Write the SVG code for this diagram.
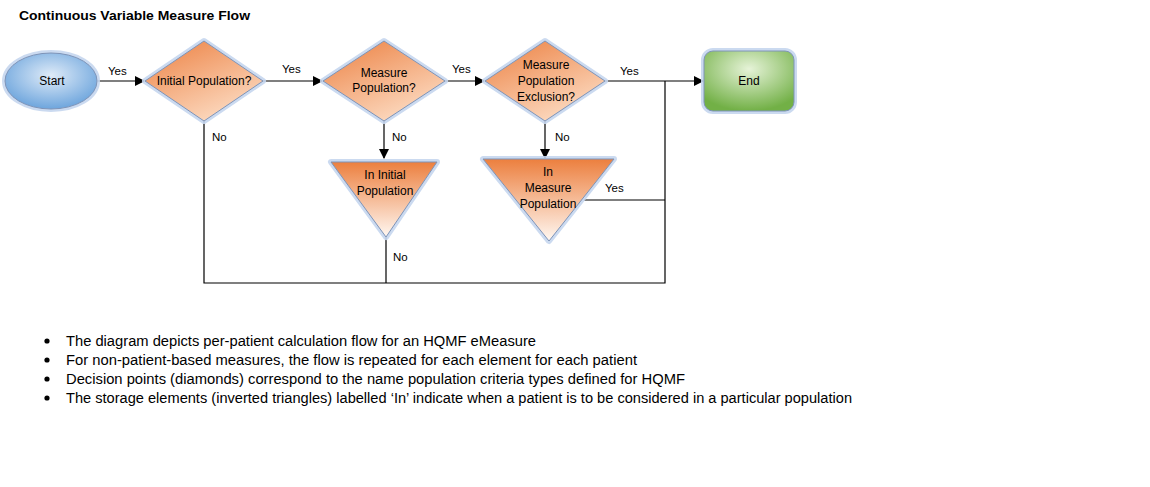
<svg xmlns="http://www.w3.org/2000/svg" width="1150" height="487" viewBox="0 0 1150 487">
<style>
text{font-family:"Liberation Sans",Arial,sans-serif;fill:#000}
.t{font-size:12px;text-anchor:middle}
.l{font-size:11.5px}
.b{font-size:14px}
.c{stroke:#000;stroke-width:1.2;fill:none}
.g{fill:none;stroke:#c5d6ee;stroke-width:6;stroke-linejoin:round;opacity:0.9}
.o{stroke:#7e94b8;stroke-width:1}
</style>
<defs>
<radialGradient id="blue" cx="50%" cy="40%" r="62%"><stop offset="0" stop-color="#dfebf8"/><stop offset="1" stop-color="#6aa3dc"/></radialGradient>
<linearGradient id="orange" x1="0" y1="0" x2="0.6" y2="1"><stop offset="0" stop-color="#ec8041"/><stop offset="1" stop-color="#fcd9bf"/></linearGradient>
<linearGradient id="tri" x1="0" y1="0" x2="0" y2="1"><stop offset="0" stop-color="#ec7f3e"/><stop offset="1" stop-color="#fff8f2"/></linearGradient>
<radialGradient id="green" cx="50%" cy="30%" r="70%"><stop offset="0" stop-color="#e6f3d8"/><stop offset="1" stop-color="#72b046"/></radialGradient>
<marker id="arr" markerWidth="10" markerHeight="10" refX="9" refY="5" orient="auto" markerUnits="userSpaceOnUse"><path d="M0,0 L10,5 L0,10 z" fill="#000"/></marker>
</defs>
<rect width="1150" height="487" fill="#fff"/>
<text x="19" y="20" style="font-size:13px;font-weight:bold" textLength="231" lengthAdjust="spacingAndGlyphs">Continuous Variable Measure Flow</text>

<g id="connectors">
<line class="c" x1="98" y1="81" x2="144" y2="81" marker-end="url(#arr)"/>
<line class="c" x1="263" y1="81" x2="322" y2="81" marker-end="url(#arr)"/>
<line class="c" x1="445" y1="81" x2="484" y2="81" marker-end="url(#arr)"/>
<line class="c" x1="605" y1="81" x2="703" y2="81" marker-end="url(#arr)"/>
<line class="c" x1="384" y1="120" x2="384" y2="158" marker-end="url(#arr)"/>
<line class="c" x1="545" y1="120" x2="545" y2="158" marker-end="url(#arr)"/>
<polyline class="c" points="204,120 204,283 665,283 665,81"/>
<line class="c" x1="386" y1="237" x2="386" y2="283"/>
<line class="c" x1="584" y1="200" x2="665" y2="200"/>
<text class="l" x="108" y="75">Yes</text>
<text class="l" x="282" y="73">Yes</text>
<text class="l" x="452" y="73">Yes</text>
<text class="l" x="620" y="75">Yes</text>
<text class="l" x="212" y="141">No</text>
<text class="l" x="392" y="141">No</text>
<text class="l" x="555" y="141">No</text>
<text class="l" x="393" y="261">No</text>
<text class="l" x="605" y="192">Yes</text>
</g>

<g id="start">
<ellipse cx="51" cy="81" rx="46" ry="28" class="g"/>
<ellipse cx="51" cy="81" rx="46" ry="28" fill="url(#blue)" class="o"/>
<text class="t" x="52" y="85">Start</text>
</g>
<g id="initial-population">
<polygon points="204,41 263,81 204,121 145,81" class="g"/>
<polygon points="204,41 263,81 204,121 145,81" fill="url(#orange)" class="o"/>
<text class="t" x="204" y="85">Initial Population?</text>
</g>
<g id="measure-population">
<polygon points="384,41 445,81 384,121 323,81" class="g"/>
<polygon points="384,41 445,81 384,121 323,81" fill="url(#orange)" class="o"/>
<text class="t" x="384" y="77">Measure</text>
<text class="t" x="384" y="92">Population?</text>
</g>
<g id="measure-population-exclusion">
<polygon points="545,41 605,81 545,121 485,81" class="g"/>
<polygon points="545,41 605,81 545,121 485,81" fill="url(#orange)" class="o"/>
<text class="t" x="546" y="69">Measure</text>
<text class="t" x="546" y="85">Population</text>
<text class="t" x="546" y="101">Exclusion?</text>
</g>
<g id="end">
<rect x="704" y="51" width="90" height="60" rx="9" class="g"/>
<rect x="704" y="51" width="90" height="60" rx="9" fill="url(#green)" class="o"/>
<text class="t" x="749" y="85">End</text>
</g>
<g id="in-initial-population">
<polygon points="331,162 437,162 386,237" class="g"/>
<polygon points="331,162 437,162 386,237" fill="url(#tri)" class="o"/>
<text class="t" x="385" y="179">In Initial</text>
<text class="t" x="385" y="195">Population</text>
</g>
<g id="in-measure-population">
<polygon points="483,159 614,159 549,241" class="g"/>
<polygon points="483,159 614,159 549,241" fill="url(#tri)" class="o"/>
<text class="t" x="548" y="176">In</text>
<text class="t" x="548" y="192">Measure</text>
<text class="t" x="548" y="208">Population</text>
</g>

<g id="notes">
<circle cx="47" cy="341" r="2.6" fill="#000"/>
<circle cx="47" cy="360" r="2.6" fill="#000"/>
<circle cx="47" cy="379" r="2.6" fill="#000"/>
<circle cx="47" cy="398" r="2.6" fill="#000"/>
<text class="b" x="66" y="346" textLength="470" lengthAdjust="spacingAndGlyphs">The diagram depicts per-patient calculation flow for an HQMF eMeasure</text>
<text class="b" x="66" y="365" textLength="571" lengthAdjust="spacingAndGlyphs">For non-patient-based measures, the flow is repeated for each element for each patient</text>
<text class="b" x="66" y="384" textLength="619" lengthAdjust="spacingAndGlyphs">Decision points (diamonds) correspond to the name population criteria types defined for HQMF</text>
<text class="b" x="66" y="403" textLength="786" lengthAdjust="spacingAndGlyphs">The storage elements (inverted triangles) labelled ‘In’ indicate when a patient is to be considered in a particular population</text>
</g>
</svg>
